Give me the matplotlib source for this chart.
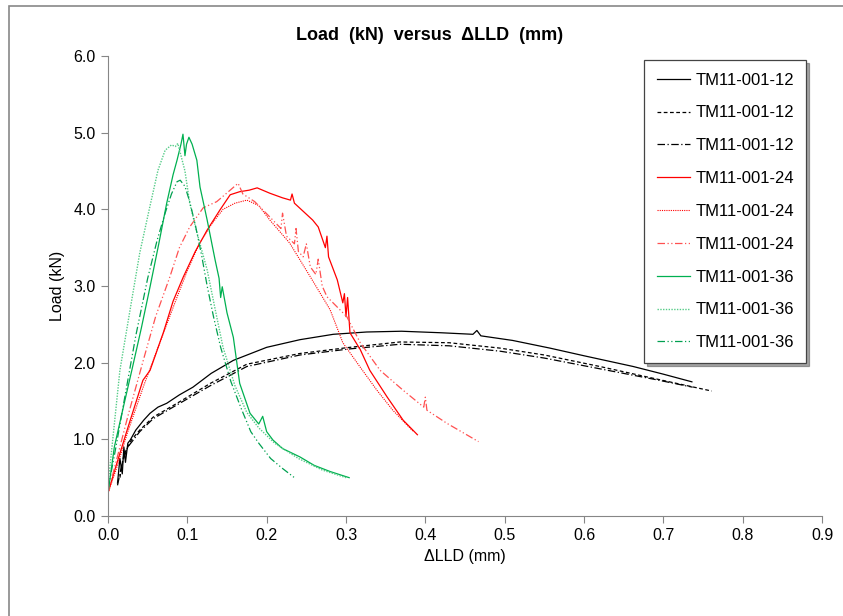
import matplotlib.pyplot as plt
from matplotlib.patches import Rectangle

plt.rcParams['font.family'] = ['Liberation Sans', 'DejaVu Sans']

# TM11-001-12 (black)
x12a = [0.012, 0.015, 0.018, 0.020, 0.022, 0.025, 0.028, 0.035, 0.045, 0.053, 0.063, 0.074, 0.090,
        0.107, 0.130, 0.158, 0.200, 0.242, 0.284, 0.326, 0.370, 0.420, 0.460, 0.465, 0.470, 0.510,
        0.557, 0.600, 0.662, 0.700, 0.736]
y12a = [0.43, 0.75, 0.55, 0.90, 0.70, 0.95, 0.99, 1.12, 1.25, 1.34, 1.42, 1.47, 1.58,
        1.68, 1.86, 2.03, 2.20, 2.30, 2.37, 2.40, 2.41, 2.39, 2.37, 2.42, 2.35, 2.29,
        2.19, 2.09, 1.95, 1.85, 1.75]
x12b = [0.015, 0.020, 0.030, 0.040, 0.057, 0.087, 0.129, 0.175, 0.242, 0.305, 0.368, 0.430, 0.494,
        0.550, 0.620, 0.690, 0.761]
y12b = [0.50, 0.80, 1.00, 1.12, 1.29, 1.47, 1.73, 1.98, 2.12, 2.20, 2.27, 2.26, 2.19,
        2.10, 1.95, 1.79, 1.63]
x12c = [0.012, 0.018, 0.025, 0.040, 0.057, 0.087, 0.129, 0.175, 0.242, 0.305, 0.368, 0.430, 0.494,
        0.550, 0.620, 0.690, 0.737]
y12c = [0.40, 0.70, 0.90, 1.10, 1.27, 1.45, 1.70, 1.95, 2.10, 2.18, 2.24, 2.22, 2.15,
        2.06, 1.92, 1.78, 1.68]

# TM11-001-24 (red)
x24a = [0.0, 0.010, 0.025, 0.044, 0.053, 0.070, 0.082, 0.095, 0.110, 0.125, 0.141, 0.154, 0.166,
        0.178, 0.188, 0.204, 0.220, 0.230, 0.232, 0.235, 0.258, 0.265, 0.274, 0.276, 0.278, 0.289,
        0.296, 0.298, 0.300, 0.302, 0.305, 0.318, 0.330, 0.352, 0.372, 0.390]
y24a = [0.30, 0.65, 1.15, 1.77, 1.90, 2.40, 2.80, 3.12, 3.45, 3.73, 3.99, 4.19, 4.23,
        4.25, 4.28, 4.21, 4.15, 4.12, 4.20, 4.08, 3.86, 3.77, 3.50, 3.65, 3.38, 3.08,
        2.78, 2.90, 2.60, 2.85, 2.39, 2.17, 1.90, 1.55, 1.25, 1.06]
x24b = [0.0, 0.010, 0.025, 0.045, 0.065, 0.085, 0.100, 0.115, 0.130, 0.145, 0.160, 0.175, 0.190,
        0.204, 0.229, 0.255, 0.280, 0.296, 0.318, 0.339, 0.359, 0.385]
y24b = [0.30, 0.60, 1.10, 1.70, 2.25, 2.80, 3.20, 3.55, 3.80, 4.00, 4.08, 4.12, 4.05,
        3.86, 3.56, 3.12, 2.69, 2.26, 1.94, 1.64, 1.38, 1.10]
x24c = [0.0, 0.010, 0.025, 0.045, 0.060, 0.078, 0.090, 0.103, 0.120, 0.137, 0.154, 0.164, 0.170,
        0.185, 0.204, 0.218, 0.220, 0.225, 0.235, 0.237, 0.240, 0.246, 0.250, 0.255, 0.262, 0.265,
        0.270, 0.276, 0.301, 0.318, 0.343, 0.372, 0.398, 0.400, 0.402, 0.427, 0.467]
y24c = [0.30, 0.70, 1.30, 2.05, 2.60, 3.12, 3.50, 3.77, 4.02, 4.10, 4.25, 4.34, 4.20,
        4.10, 3.90, 3.75, 3.95, 3.65, 3.55, 3.75, 3.45, 3.38, 3.55, 3.25, 3.15, 3.35,
        3.00, 2.86, 2.60, 2.26, 1.90, 1.64, 1.42, 1.55, 1.38, 1.21, 0.97]

# TM11-001-36 (green)
x36a = [0.0, 0.008, 0.020, 0.030, 0.042, 0.053, 0.064, 0.074, 0.082, 0.087, 0.092, 0.0945, 0.097,
        0.099, 0.102, 0.106, 0.112, 0.116, 0.120, 0.125, 0.130, 0.135, 0.140, 0.142, 0.144, 0.150,
        0.158, 0.166, 0.179, 0.190, 0.195, 0.200, 0.208, 0.220, 0.242, 0.260, 0.280, 0.304]
y36a = [0.30, 0.90, 1.45, 1.90, 2.45, 2.99, 3.55, 4.08, 4.45, 4.64, 4.85, 4.98, 4.70,
        4.85, 4.94, 4.85, 4.64, 4.29, 4.10, 3.86, 3.60, 3.34, 3.10, 2.85, 2.99, 2.65,
        2.33, 1.73, 1.34, 1.20, 1.30, 1.10, 0.99, 0.88, 0.77, 0.66, 0.58, 0.50]
x36b = [0.0, 0.005, 0.015, 0.028, 0.040, 0.052, 0.063, 0.072, 0.080, 0.085, 0.088, 0.092, 0.097,
        0.103, 0.112, 0.125, 0.135, 0.145, 0.160, 0.175, 0.190, 0.210, 0.240, 0.270, 0.300]
y36b = [0.40, 0.90, 1.90, 2.70, 3.43, 4.00, 4.51, 4.77, 4.84, 4.82, 4.86, 4.70, 4.50,
        4.08, 3.70, 3.21, 2.70, 2.20, 1.70, 1.35, 1.15, 0.95, 0.75, 0.60, 0.50]
x36c = [0.0, 0.010, 0.022, 0.035, 0.050, 0.062, 0.072, 0.080, 0.087, 0.091, 0.097, 0.103, 0.110,
        0.118, 0.125, 0.133, 0.142, 0.155, 0.168, 0.180, 0.190, 0.205, 0.220, 0.235]
y36c = [0.35, 0.90, 1.60, 2.35, 3.10, 3.60, 3.95, 4.20, 4.36, 4.38, 4.30, 4.10, 3.80,
        3.40, 3.00, 2.60, 2.20, 1.75, 1.40, 1.10, 0.95, 0.75, 0.62, 0.50]

fig = plt.figure(figsize=(8.43, 6.16), dpi=100)
fig.patches.append(Rectangle((9 / 843, -0.05), 1.1, 1 - 6 / 616 + 0.05, transform=fig.transFigure,
                             fill=False, edgecolor='#888888', linewidth=1.2))
ax = fig.add_axes([108 / 843, 1 - 516 / 616, 714 / 843, 460 / 616])

ax.plot(x12a, y12a, color='black', lw=0.9, ls='-', label='TM11-001-12')
ax.plot(x12b, y12b, color='black', lw=0.9, ls=(0, (3, 2)), label='TM11-001-12')
ax.plot(x12c, y12c, color='black', lw=0.9, ls=(0, (6, 2, 1, 2)), label='TM11-001-12')
ax.plot(x24a, y24a, color='#FF0000', lw=0.9, ls='-', label='TM11-001-24')
ax.plot(x24b, y24b, color='#FF0000', lw=0.8, ls=(0, (1, 1)), label='TM11-001-24')
ax.plot(x24c, y24c, color='#FF5050', lw=0.9, ls=(0, (6, 2, 1, 2, 1, 2)), label='TM11-001-24')
ax.plot(x36a, y36a, color='#00B050', lw=0.9, ls='-', label='TM11-001-36')
ax.plot(x36b, y36b, color='#55CC88', lw=1.0, ls=(0, (1, 1)), label='TM11-001-36')
ax.plot(x36c, y36c, color='#00A050', lw=0.9, ls=(0, (6, 2, 1, 2, 1, 2)), label='TM11-001-36')

ax.set_xlim(0, 0.9)
ax.set_ylim(0, 6)
ax.set_xticks([i / 10 for i in range(10)])
ax.set_yticks(range(7))
ax.set_xticklabels([f'{i / 10:.1f}' for i in range(10)])
ax.set_yticklabels([f'{i:.1f}' for i in range(7)])
for s in ['top', 'right']:
    ax.spines[s].set_visible(False)
for s in ['left', 'bottom']:
    ax.spines[s].set_color('#868686')
ax.tick_params(direction='out', length=5, color='#868686', labelsize=11.5, pad=4)

fig.text(430 / 843, 1 - 35 / 616, 'Load  (kN)  versus  \u0394LLD  (mm)', fontsize=13,
         fontweight='bold', ha='center', va='center')
ax.set_xlabel('\u0394LLD (mm)', fontsize=11.5, labelpad=4)
ax.set_ylabel('Load (kN)', fontsize=11.5, labelpad=6)

leg = ax.legend(loc='upper right', bbox_to_anchor=(0.978, 0.991), fontsize=12, frameon=True,
                fancybox=False, shadow=True, labelspacing=1.07, handlelength=2.0,
                handletextpad=0.3, borderpad=0.75, borderaxespad=0)
leg.get_frame().set_edgecolor('#444444')
leg.get_frame().set_linewidth(0.9)

fig.savefig('out.png', dpi=100)
